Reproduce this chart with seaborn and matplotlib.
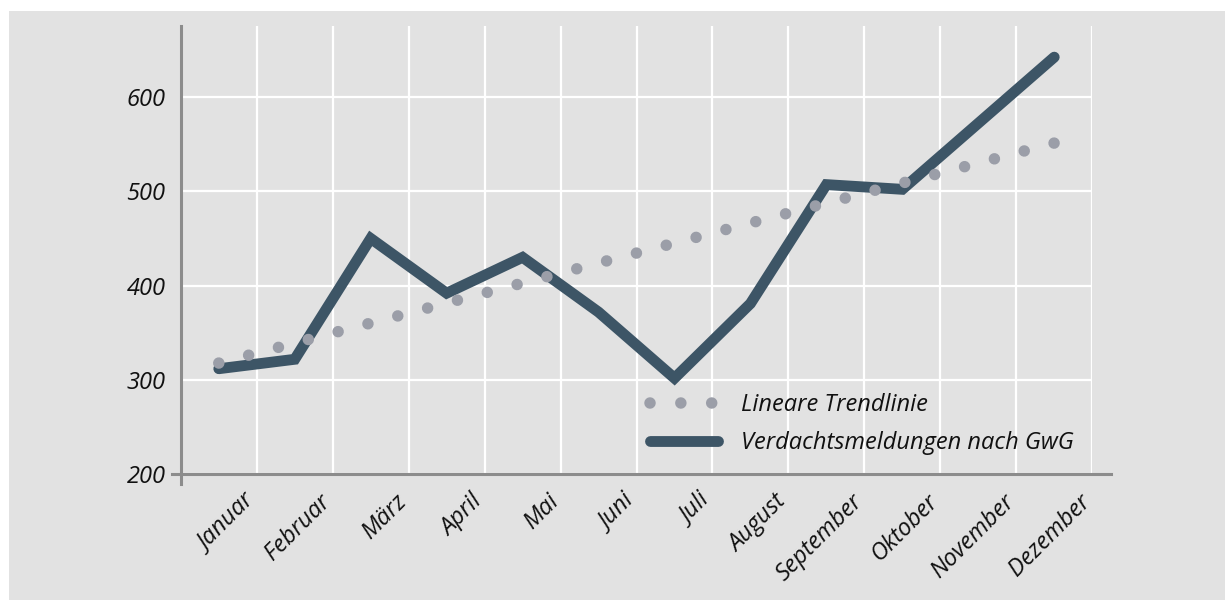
import numpy as np
import pandas as pd
import seaborn as sns
import matplotlib.pyplot as plt
import matplotlib.transforms as mtransforms
from matplotlib.patches import Rectangle

# values
months = ['Januar', 'Februar', 'März', 'April', 'Mai', 'Juni', 'Juli',
          'August', 'September', 'Oktober', 'November', 'Dezember']
meldungen = [312, 322, 450, 392, 430, 372, 302, 381, 507, 502, 572, 642]
trend_months = [0, 11]          # trend line runs from Januar to Dezember
trend_values = [318, 551]
y_ticks = [200, 300, 400, 500, 600]

label_main = 'Verdachtsmeldungen nach GwG'
label_trend = 'Lineare Trendlinie'

bg = '#e2e2e2'
dark = '#3d5566'
dots = '#9b9ea8'
spine_col = '#8c8c8c'
txt = '#111111'

sns.set_theme(style='darkgrid')
plt.rcParams['font.family'] = ['Open Sans', 'DejaVu Sans']
plt.rcParams['font.style'] = 'italic'

df = pd.DataFrame({'month': np.arange(len(months)), 'value': meldungen})
dft = pd.DataFrame({'month': trend_months, 'value': trend_values})

fig = plt.figure(figsize=(12.25, 6), dpi=100, facecolor='white')
fig.add_artist(Rectangle((9 / 1225, 0), 1, 1 - 11 / 600, transform=fig.transFigure,
                         facecolor=bg, edgecolor='none', zorder=-10))
ax = fig.add_axes([0.1476, 0.2092, 0.8916 - 0.1476, 0.9567 - 0.2092])
ax.set_facecolor(bg)

sns.lineplot(data=df, x='month', y='value', ax=ax, color=dark, lw=7.8,
             solid_capstyle='round', solid_joinstyle='miter', label=label_main, zorder=3)
# round dots: near-zero dash with round caps
sns.lineplot(data=dft, x='month', y='value', ax=ax, color=dots, lw=8.3,
             linestyle=(0, (0.001, 2.675)), dash_capstyle='round', label=label_trend, zorder=4)

ax.set_xlim(-0.5, 11.5)
ax.set_ylim(200, 675)
ax.set_yticks(y_ticks)
ax.set_xticks(np.arange(len(months)))
ax.set_xticklabels(months, rotation=45, ha='right', va='top', rotation_mode='anchor')
ax.set_xticks(np.arange(len(months)) + 0.5, minor=True)
ax.set_xlabel('')
ax.set_ylabel('')

ax.grid(False)
ax.yaxis.grid(True, color='white', lw=1.6)
ax.xaxis.grid(True, which='minor', color='white', lw=1.6)
ax.tick_params(axis='both', which='both', length=0, labelsize=17, labelcolor=txt)
ax.tick_params(axis='x', pad=11)
ax.tick_params(axis='y', pad=11)

# shift the rotated month labels so their ends sit right of the tick
# (after tick_params, which would reset the label transforms)
shift = mtransforms.ScaledTranslation(0.24, 0, fig.dpi_scale_trans)
for lbl in ax.get_xticklabels():
    lbl.set_transform(lbl.get_transform() + shift)

for s in ['top', 'right']:
    ax.spines[s].set_visible(False)
for s in ['left', 'bottom']:
    ax.spines[s].set_visible(True)
    ax.spines[s].set_color(spine_col)
    ax.spines[s].set_linewidth(2.2)
ax.spines['bottom'].set_bounds(-0.62, 11.75)
ax.spines['left'].set_bounds(190, 675)

handles, labels = ax.get_legend_handles_labels()
order = [labels.index(label_trend), labels.index(label_main)]
leg = ax.legend([handles[i] for i in order], [labels[i] for i in order],
                loc='lower left', bbox_to_anchor=(0.491, -0.004), frameon=False,
                fontsize=17, handlelength=2.9, handletextpad=0.97, labelspacing=0.6)
for t in leg.get_texts():
    t.set_color(txt)

fig.savefig('out.png', dpi=100, facecolor='white')
